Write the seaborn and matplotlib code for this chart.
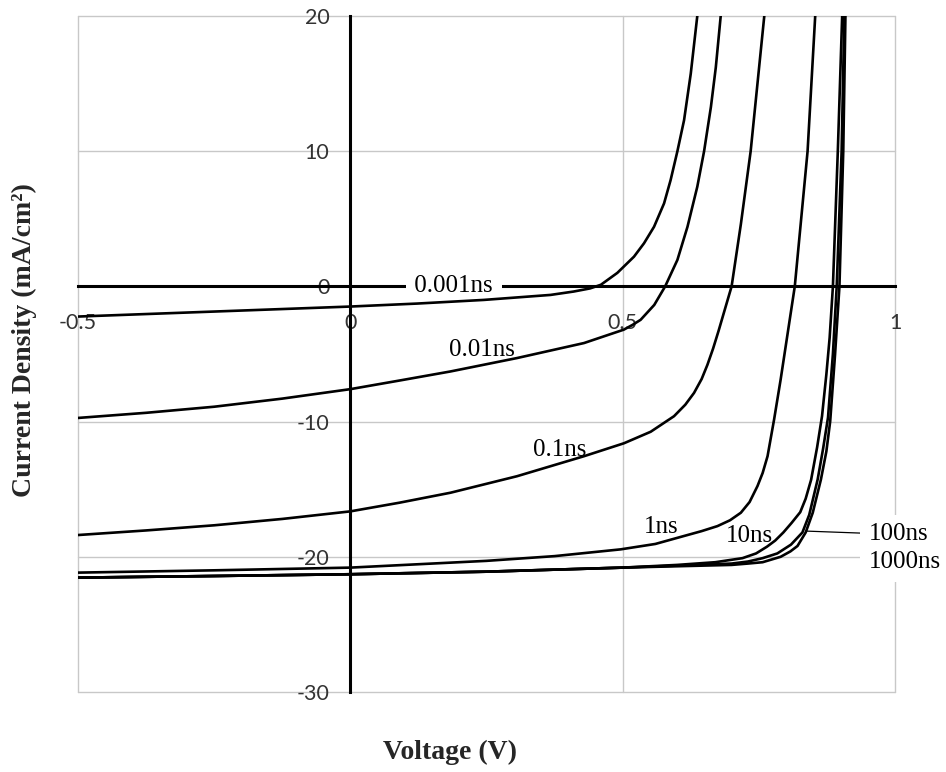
import matplotlib
matplotlib.use("Agg")
import matplotlib.pyplot as plt
import pandas as pd
import seaborn as sns

# J-V curves of the cell for different carrier lifetimes
lifetimes = ["0.001ns", "0.01ns", "0.1ns", "1ns", "10ns", "100ns", "1000ns"]

v_0001 = [-0.5, -0.25, 0.0, 0.1225, 0.245, 0.3676, 0.41, 0.44, 0.46, 0.4902,
          0.5208, 0.5392, 0.5576, 0.576, 0.588, 0.6005, 0.6127, 0.625, 0.637]
j_0001 = [-2.23, -1.86, -1.49, -1.27, -1.0, -0.63, -0.38, -0.15, 0.12, 1.0,
          2.2, 3.19, 4.41, 6.14, 7.86, 10.0, 12.29, 15.73, 20.0]

v_001 = [-0.5, -0.375, -0.25, -0.125, 0.0, 0.092, 0.184, 0.306, 0.429, 0.502,
         0.518, 0.533, 0.558, 0.578, 0.6005, 0.619, 0.637, 0.6495, 0.662, 0.671, 0.68]
j_001 = [-9.73, -9.35, -8.9, -8.3, -7.6, -6.95, -6.29, -5.3, -4.19, -3.2,
         -2.85, -2.47, -1.37, 0.0, 1.96, 4.41, 7.37, 10.0, 13.27, 16.2, 20.0]

v_01 = [-0.5, -0.375, -0.25, -0.125, 0.0, 0.09, 0.184, 0.306, 0.429, 0.5025,
        0.5515, 0.5943, 0.615, 0.631, 0.645, 0.6556, 0.666, 0.676, 0.688, 0.7,
        0.717, 0.735, 0.7475, 0.76]
j_01 = [-18.39, -18.05, -17.67, -17.2, -16.64, -16.0, -15.26, -14.04, -12.56, -11.6,
        -10.75, -9.6, -8.75, -7.88, -6.85, -5.8, -4.6, -3.3, -1.65, 0.0,
        4.6, 10.0, 15.0, 20.0]

v_1 = [-0.5, -0.25, 0.0, 0.25, 0.375, 0.4963, 0.56, 0.6127, 0.645, 0.674,
       0.697, 0.717, 0.733, 0.7475, 0.757, 0.766, 0.778, 0.79, 0.803, 0.816,
       0.8395, 0.8535]
j_1 = [-21.17, -21.0, -20.8, -20.3, -19.95, -19.45, -19.05, -18.46, -18.1, -17.73,
       -17.3, -16.74, -15.95, -14.77, -13.8, -12.56, -9.85, -6.9, -3.45, 0.0,
       10.0, 20.0]

v_10 = [-0.5, -0.25, 0.0, 0.25, 0.5, 0.6, 0.67, 0.72, 0.745, 0.765,
        0.78, 0.795, 0.81, 0.826, 0.836, 0.846, 0.857, 0.866, 0.874, 0.88,
        0.886, 0.895, 0.903]
j_10 = [-21.54, -21.42, -21.29, -21.1, -20.8, -20.6, -20.4, -20.1, -19.75, -19.25,
        -18.8, -18.2, -17.5, -16.7, -15.7, -14.3, -11.9, -9.6, -6.5, -3.8,
        0.0, 10.0, 20.0]

v_100 = [-0.5, -0.25, 0.0, 0.25, 0.5, 0.6, 0.7, 0.73, 0.757, 0.784,
         0.809, 0.83, 0.8425, 0.858, 0.868, 0.877, 0.886, 0.893, 0.902, 0.907]
j_100 = [-21.54, -21.42, -21.29, -21.1, -20.8, -20.65, -20.5, -20.35, -20.1, -19.75,
         -19.1, -18.2, -16.9, -14.28, -12.0, -9.7, -5.0, 0.0, 10.0, 20.0]

v_1000 = [-0.5, -0.25, 0.0, 0.25, 0.5, 0.6, 0.7, 0.73, 0.757, 0.79,
          0.808, 0.821, 0.836, 0.849, 0.864, 0.874, 0.881, 0.89, 0.898, 0.905, 0.909]
j_1000 = [-21.54, -21.42, -21.29, -21.1, -20.8, -20.7, -20.6, -20.5, -20.4, -20.0,
          -19.6, -19.2, -18.2, -16.74, -14.28, -12.2, -9.98, -5.0, 0.0, 10.0, 20.0]

x_ticks = [-0.5, 0, 0.5, 1]
x_tick_labels = ["-0.5", "0", "0.5", "1"]
y_ticks = [-30, -20, -10, 0, 10, 20]
y_tick_labels = ["-30", "-20", "-10", "0", "10", "20"]

curves = {
    "0.001ns": (v_0001, j_0001),
    "0.01ns": (v_001, j_001),
    "0.1ns": (v_01, j_01),
    "1ns": (v_1, j_1),
    "10ns": (v_10, j_10),
    "100ns": (v_100, j_100),
    "1000ns": (v_1000, j_1000),
}
frames = []
for name in lifetimes:
    v, j = curves[name]
    frames.append(pd.DataFrame({"Voltage": v, "Current": j, "Lifetime": name}))
df = pd.concat(frames, ignore_index=True)

sns.set_style("white")
plt.rcParams["font.family"] = ["Liberation Serif", "DejaVu Sans"]

fig = plt.figure(figsize=(9.46, 7.72), dpi=100)
ax = fig.add_axes([78 / 946, 1 - 692 / 772, (895 - 78) / 946, (692 - 16) / 772])

sns.lineplot(data=df, x="Voltage", y="Current", units="Lifetime", estimator=None,
             sort=False, color="black", linewidth=1.9, ax=ax, zorder=4)
for line in ax.get_lines():
    line.set_solid_joinstyle("round")

ax.set_xlim(-0.5, 1)
ax.set_ylim(-30, 20)

# axes crossing at the origin
for side in ("top", "right"):
    ax.spines[side].set_visible(False)
ax.spines["left"].set_position(("data", 0))
ax.spines["bottom"].set_position(("data", 0))
for side in ("left", "bottom"):
    ax.spines[side].set_linewidth(2.2)
    ax.spines[side].set_color("black")
    ax.spines[side].set_zorder(2.5)

ax.set_xticks(x_ticks)
ax.set_xticklabels(x_tick_labels)
ax.set_yticks(y_ticks)
ax.set_yticklabels(y_tick_labels)
ax.tick_params(axis="both", direction="inout", length=10, width=2.0, color="black",
               labelsize=15.5, labelcolor="#333333")
ax.tick_params(axis="x", pad=14)
ax.tick_params(axis="y", pad=10)
for lab in ax.get_xticklabels() + ax.get_yticklabels():
    lab.set_family(["Lato", "DejaVu Sans"])

ax.grid(True, color="#c8c8c8", linewidth=1.0)
ax.set_axisbelow(True)
for gl in ax.get_xgridlines() + ax.get_ygridlines():
    gl.set_clip_on(False)

ax.set_xlabel("Voltage (V)", fontsize=20, fontweight="bold", va="center")
ax.xaxis.set_label_coords(0.455, -0.09)
ax.set_ylabel("Current Density (mA/cm²)", fontsize=20, fontweight="bold", va="center")
ax.yaxis.set_label_coords(-0.065, 0.52)

# curve labels
label_font = dict(fontsize=18, color="black")
ax.text(0.19, 0.0, " 0.001ns ", ha="center", va="center", zorder=3,
        bbox=dict(boxstyle="square,pad=0.1", fc="white", ec="none"), **label_font)
ax.text(0.242, -4.7, "0.01ns", ha="center", va="center", zorder=5, **label_font)
ax.text(0.385, -12.07, "0.1ns", ha="center", va="center", zorder=5, **label_font)
ax.text(0.57, -17.8, "1ns", ha="center", va="center", zorder=5, **label_font)
ax.text(0.732, -18.46, "10ns", ha="center", va="center", zorder=5, **label_font)
ax.annotate("100ns", xy=(0.838, -18.1), xytext=(0.952, -18.35), ha="left", va="center",
            zorder=5, annotation_clip=False,
            bbox=dict(boxstyle="square,pad=0.35", fc="white", ec="none"),
            arrowprops=dict(arrowstyle="-", color="black", lw=0.9, shrinkA=0, shrinkB=0),
            **label_font)
ax.text(0.952, -20.4, "1000ns", ha="left", va="center", zorder=5, clip_on=False,
        bbox=dict(boxstyle="square,pad=0.35", fc="white", ec="none"), **label_font)

fig.savefig("out.png", dpi=100, facecolor="white")
